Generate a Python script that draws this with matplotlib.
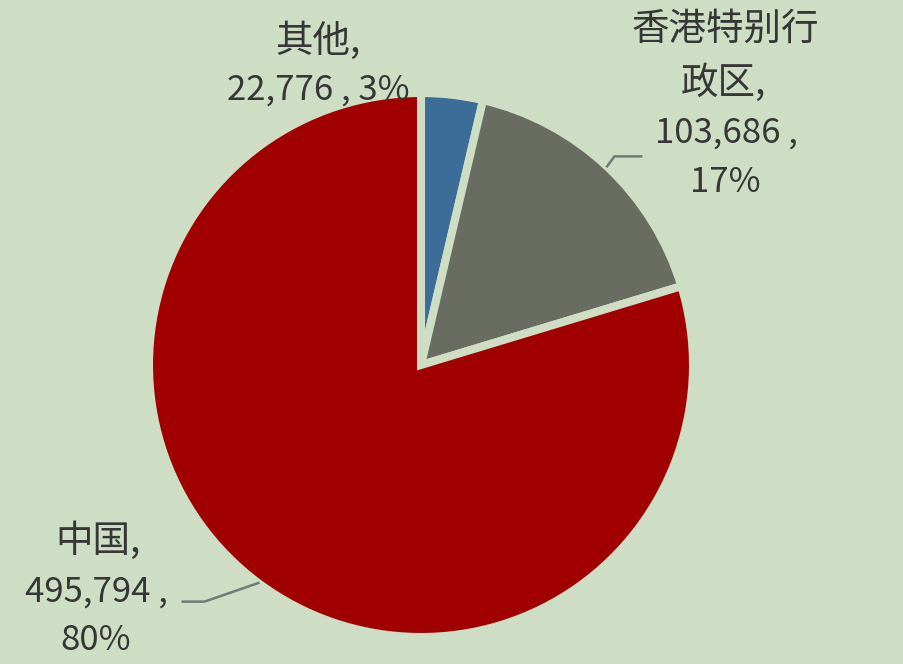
import numpy as np
import matplotlib
matplotlib.use("Agg")
import matplotlib.pyplot as plt

plt.rcParams['font.family'] = ['Noto Sans CJK SC', 'DejaVu Sans']

categories = ["其他", "香港特别行政区", "中国"]
values = [22776, 103686, 495794]
value_labels = ["22,776", "103,686", "495,794"]
pct_labels = ["3%", "17%", "80%"]
colors = ["#3b6d98", "#696c61", "#a10000"]
bg = "#cddec5"

W, H = 904, 664
fig = plt.figure(figsize=(W / 100, H / 100), dpi=100, facecolor=bg)
ax = fig.add_axes([0, 0, 1, 1])
ax.set_facecolor(bg)

cx, cy, r = 421, H - 365, 272
wedges, _ = ax.pie(values, colors=colors, startangle=90, counterclock=False,
                   center=(cx, cy), radius=r,
                   wedgeprops=dict(edgecolor=bg, linewidth=5.8))
ax.set_xlim(0, W)
ax.set_ylim(0, H)
ax.set_aspect('equal')
ax.axis('off')

txt_color = "#363636"
fs_cjk = 27
fs_num = 25

# label lines: (text, x centre, baseline y from top, font size)
lines = [
    (categories[0] + ",", 318, 52, fs_cjk),
    (f"{value_labels[0]} , {pct_labels[0]}", 318, 100, fs_num),
    (categories[1][:5], 725, 40, fs_cjk),
    (categories[1][5:] + ",", 723, 94, fs_cjk),
    (f"{value_labels[1]} ,", 726, 143, fs_num),
    (pct_labels[1], 725, 192, fs_num),
    (categories[2] + ",", 98, 552, fs_cjk),
    (f"{value_labels[2]} ,", 96, 602, fs_num),
    (pct_labels[2], 96, 650, fs_num),
]
for txt, lx, ly, fs in lines:
    ax.text(lx, H - ly, txt, ha='center', va='baseline', fontsize=fs, color=txt_color)

# leader lines from wedge mid angle
line_color = "#6e7c76"
def mid_point(w, rad):
    a = np.deg2rad((w.theta1 + w.theta2) / 2)
    return cx + rad * np.cos(a), cy + rad * np.sin(a)

# Hong Kong
x0, y0 = mid_point(wedges[1], r - 1)
ax.plot([x0, x0 + 8, x0 + 36], [y0, y0 + 11, y0 + 11], color=line_color, lw=1.8,
        solid_capstyle='butt')
# China
x0, y0 = mid_point(wedges[2], r - 1)
ax.plot([x0, x0 - 55, x0 - 78], [y0, y0 - 19, y0 - 19], color=line_color, lw=1.8,
        solid_capstyle='butt')

fig.savefig("out.png", dpi=100, facecolor=bg)
